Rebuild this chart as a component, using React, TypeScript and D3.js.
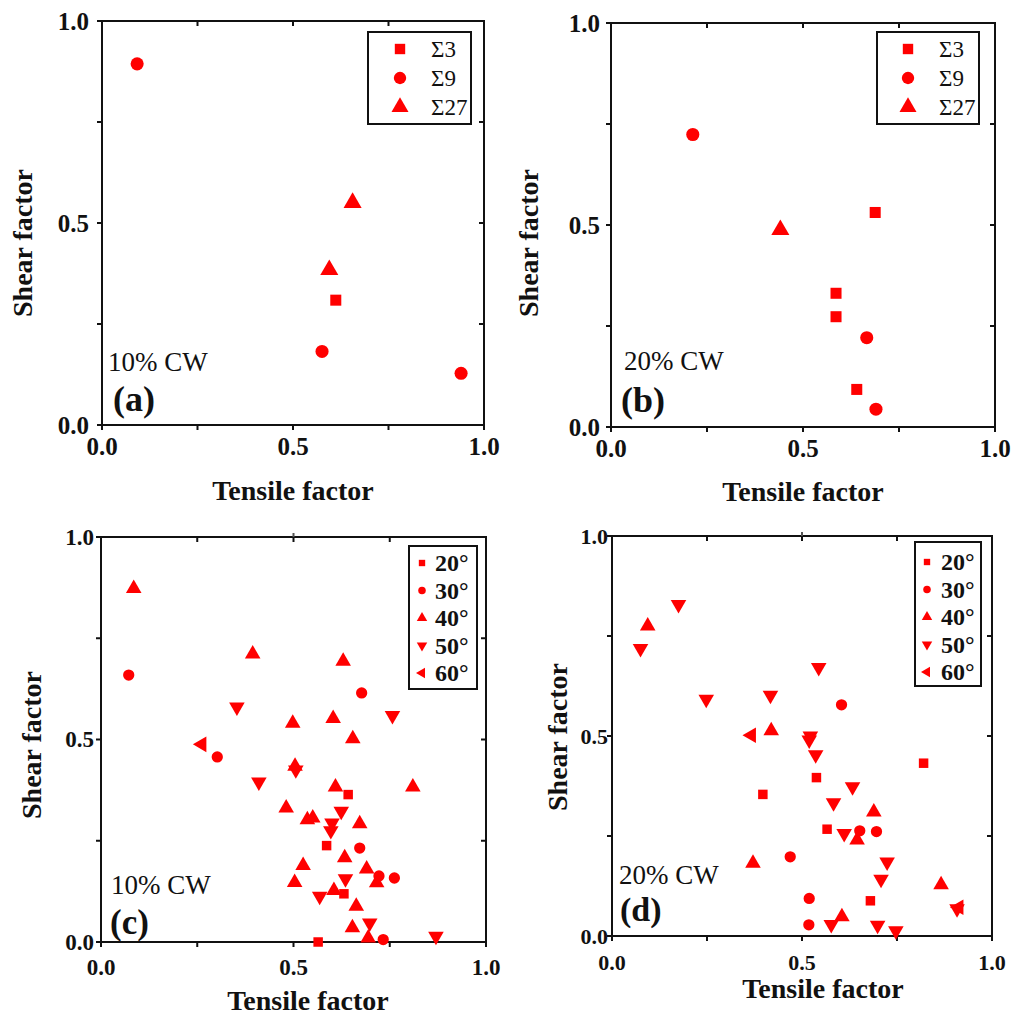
import React from 'react';
import * as d3 from 'd3';

// ---------- DATA ----------
// Panel (a) 10% CW, CSL boundaries [tensile, shear]
const aSigma3 = [[0.612, 0.309]];
const aSigma9 = [[0.092, 0.894], [0.576, 0.182], [0.94, 0.128]];
const aSigma27 = [[0.656, 0.55], [0.595, 0.384]];

// Panel (b) 20% CW
const bSigma3 = [[0.688, 0.531], [0.586, 0.331], [0.586, 0.273], [0.64, 0.093]];
const bSigma9 = [[0.213, 0.724], [0.666, 0.221], [0.69, 0.044]];
const bSigma27 = [[0.441, 0.488]];

// Panel (c) 10% CW, random boundaries by misorientation
const c20 = [[0.642, 0.364], [0.586, 0.238], [0.631, 0.119], [0.564, 0.0]];
const c30 = [[0.072, 0.659], [0.677, 0.615], [0.302, 0.457], [0.672, 0.232], [0.722, 0.163], [0.762, 0.158], [0.733, 0.006]];
const c40 = [[0.085, 0.873], [0.394, 0.711], [0.629, 0.693], [0.498, 0.54], [0.603, 0.552], [0.654, 0.502], [0.504, 0.434], [0.609, 0.383], [0.81, 0.383], [0.481, 0.331], [0.536, 0.302], [0.55, 0.306], [0.672, 0.292], [0.633, 0.208], [0.525, 0.189], [0.69, 0.18], [0.716, 0.146], [0.503, 0.147], [0.605, 0.127], [0.663, 0.088], [0.653, 0.035], [0.694, 0.01]];
const c50 = [[0.353, 0.58], [0.757, 0.559], [0.506, 0.425], [0.41, 0.395], [0.624, 0.323], [0.6, 0.294], [0.597, 0.275], [0.635, 0.156], [0.568, 0.113], [0.698, 0.047], [0.87, 0.014]];
const c60 = [[0.262, 0.488]];

// Panel (d) 20% CW
const d20 = [[0.82, 0.432], [0.538, 0.396], [0.397, 0.354], [0.566, 0.267], [0.68, 0.088]];
const d30 = [[0.604, 0.578], [0.652, 0.263], [0.696, 0.261], [0.469, 0.198], [0.519, 0.094], [0.518, 0.028]];
const d40 = [[0.094, 0.775], [0.419, 0.513], [0.689, 0.31], [0.645, 0.24], [0.371, 0.182], [0.866, 0.128], [0.605, 0.048]];
const d50 = [[0.175, 0.829], [0.075, 0.719], [0.544, 0.671], [0.248, 0.592], [0.417, 0.602], [0.522, 0.5], [0.519, 0.49], [0.536, 0.453], [0.633, 0.373], [0.583, 0.333], [0.611, 0.256], [0.724, 0.185], [0.708, 0.142], [0.908, 0.068], [0.577, 0.029], [0.699, 0.027], [0.747, 0.013]];
const d60 = [[0.367, 0.502], [0.913, 0.072]];

const sigmaLabels = ['Σ3', 'Σ9', 'Σ27'];
const angleLabels = ['20°', '30°', '40°', '50°', '60°'];
const majorTicks = [0, 0.5, 1];
const minorTicks = [0.25, 0.75];
const tickLabels = ['0.0', '0.5', '1.0'];
const cwLabels = ['10% CW', '20% CW', '10% CW', '20% CW'];
const panelLabels = ['(a)', '(b)', '(c)', '(d)'];

// ---------- STYLE / LAYOUT ----------
const RED = '#ff0000';
const SERIF = '"Liberation Serif", "Times New Roman", Times, serif';

const symType: Record<string, any> = {
  square: d3.symbolSquare,
  circle: d3.symbolCircle,
  up: d3.symbolTriangle,
  down: d3.symbolTriangle,
  left: d3.symbolTriangle,
};
const symRot: Record<string, number> = { square: 0, circle: 0, up: 0, down: 180, left: -90 };

function Marker({ shape, x, y, size }: { shape: string; x: number; y: number; size: number }) {
  const s = shape === 'square' ? size * 0.9 : shape === 'circle' ? size : size * 1.05;
  const d = d3.symbol().type(symType[shape]).size(s)() as string;
  return <path d={d} transform={`translate(${x},${y}) rotate(${symRot[shape]})`} fill={RED} />;
}

const sigmaShapes = ['square', 'circle', 'up'];
const angleShapes = ['square', 'circle', 'up', 'down', 'left'];

const panels = [
  {
    x0: 102, x1: 484, y0: 21, y1: 425, tickFs: 25, yLabDx: -13, xLabDy: 30,
    series: [aSigma3, aSigma9, aSigma27], shapes: sigmaShapes, names: sigmaLabels, msize: 135,
    legend: { x: 368, y: 32, w: 103, h: 92, r0: 49, gap: 29, mx: 400, tx: 431, fs: 23, bold: false, ms: 120 },
    cw: { x: 108, y: 371 }, lab: { x: 113, y: 411 }, labFs: 36,
    xt: { x: 293, y: 500 }, yt: { x: 22, y: 243 }, topTick: false,
  },
  {
    x0: 611, x1: 995, y0: 23, y1: 427, tickFs: 25, yLabDx: -11, xLabDy: 30,
    series: [bSigma3, bSigma9, bSigma27], shapes: sigmaShapes, names: sigmaLabels, msize: 135,
    legend: { x: 877, y: 32, w: 102, h: 92, r0: 49, gap: 29, mx: 908, tx: 939, fs: 23, bold: false, ms: 120 },
    cw: { x: 624, y: 370 }, lab: { x: 621, y: 412 }, labFs: 36,
    xt: { x: 803, y: 501 }, yt: { x: 528, y: 243 }, topTick: false,
  },
  {
    x0: 101, x1: 486, y0: 537, y1: 942, tickFs: 23, yLabDx: -7, xLabDy: 33,
    series: [c20, c30, c40, c50, c60], shapes: angleShapes, names: angleLabels, msize: 100,
    legend: { x: 409, y: 546, w: 68, h: 143, r0: 563, gap: 27.5, mx: 422, tx: 435, fs: 24, bold: true, ms: 45 },
    cw: { x: 111, y: 894 }, lab: { x: 110, y: 934 }, labFs: 35,
    xt: { x: 308, y: 1010 }, yt: { x: 31, y: 745 }, topTick: true,
  },
  {
    x0: 612, x1: 992, y0: 536, y1: 936, tickFs: 22, yLabDx: -4, xLabDy: 34,
    series: [d20, d30, d40, d50, d60], shapes: angleShapes, names: angleLabels, msize: 100,
    legend: { x: 915, y: 542, w: 66, h: 144, r0: 562, gap: 27.5, mx: 927, tx: 941, fs: 24, bold: true, ms: 45 },
    cw: { x: 619, y: 884 }, lab: { x: 620, y: 921 }, labFs: 34,
    xt: { x: 823, y: 998 }, yt: { x: 557, y: 737 }, topTick: true,
  },
];

function Panel({ p, i }: { p: (typeof panels)[number]; i: number }) {
  const xs = d3.scaleLinear().domain([0, 1]).range([p.x0, p.x1]);
  const ys = d3.scaleLinear().domain([0, 1]).range([p.y1, p.y0]);
  const tl = 5;
  const allTicks = [...majorTicks, ...minorTicks];
  return (
    <g>
      <rect x={p.x0} y={p.y0} width={p.x1 - p.x0} height={p.y1 - p.y0} fill="none" stroke="#111" strokeWidth={2} />
      {allTicks.map((t) => (
        <g key={'t' + t}>
          <line x1={xs(t)} x2={xs(t)} y1={p.y1} y2={p.y1 + tl} stroke="#111" strokeWidth={2} />
          <line x1={xs(t)} x2={xs(t)} y1={p.y0} y2={p.y0 + tl} stroke="#111" strokeWidth={2} />
          <line x1={p.x0 - tl} x2={p.x0} y1={ys(t)} y2={ys(t)} stroke="#111" strokeWidth={2} />
          <line x1={p.x1 - tl} x2={p.x1} y1={ys(t)} y2={ys(t)} stroke="#111" strokeWidth={2} />
        </g>
      ))}
      {p.topTick && <line x1={xs(0.5)} x2={xs(0.5)} y1={p.y0 - 4} y2={p.y0} stroke="#555" strokeWidth={2} />}
      {majorTicks.map((t, k) => (
        <g key={'l' + t} fontFamily={SERIF} fontWeight="bold" fontSize={p.tickFs} fill="#111">
          <text x={xs(t)} y={p.y1 + p.xLabDy} textAnchor="middle">{tickLabels[k]}</text>
          <text x={p.x0 + p.yLabDx} y={ys(t)} textAnchor="end" dominantBaseline="central">{tickLabels[k]}</text>
        </g>
      ))}
      <text x={p.xt.x} y={p.xt.y} textAnchor="middle" fontFamily={SERIF} fontWeight="bold" fontSize={28} fill="#111">Tensile factor</text>
      <text transform={`translate(${p.yt.x},${p.yt.y}) rotate(-90)`} textAnchor="middle" dominantBaseline="central" fontFamily={SERIF} fontWeight="bold" fontSize={28} fill="#111">Shear factor</text>
      <text x={p.cw.x} y={p.cw.y} fontFamily={SERIF} fontSize={27} fill="#111">{cwLabels[i]}</text>
      <text x={p.lab.x} y={p.lab.y} fontFamily={SERIF} fontWeight="bold" fontSize={p.labFs} fill="#111">{panelLabels[i]}</text>
      {p.series.map((s, si) =>
        s.map((pt, k) => <Marker key={si + '-' + k} shape={p.shapes[si]} x={xs(pt[0])} y={ys(pt[1])} size={p.msize} />)
      )}
      <rect x={p.legend.x} y={p.legend.y} width={p.legend.w} height={p.legend.h} fill="white" stroke="#111" strokeWidth={2} />
      {p.names.map((n, k) => (
        <g key={'lg' + k}>
          <Marker shape={p.shapes[k]} x={p.legend.mx} y={p.legend.r0 + k * p.legend.gap} size={p.legend.ms} />
          <text x={p.legend.tx} y={p.legend.r0 + k * p.legend.gap} dominantBaseline="central" fontFamily={SERIF}
            fontWeight={p.legend.bold ? 'bold' : 'normal'} fontSize={p.legend.fs} fill="#111">{n}</text>
        </g>
      ))}
    </g>
  );
}

export default function App() {
  return (
    <svg width={1014} height={1021} style={{ position: 'absolute', left: 0, top: 0, background: 'white' }}>
      <rect width={1014} height={1021} fill="white" />
      {panels.map((p, i) => (
        <Panel key={i} p={p} i={i} />
      ))}
    </svg>
  );
}
